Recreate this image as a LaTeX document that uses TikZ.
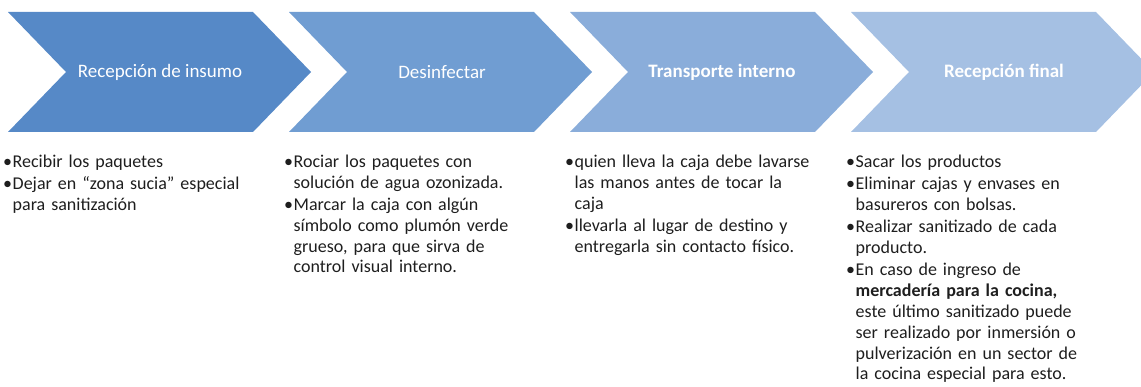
\documentclass[tikz,border=0pt]{standalone}
\usepackage{fontspec}
\setmainfont{Carlito}
\usepackage{xcolor}
\definecolor{stepone}{RGB}{86,137,199}
\definecolor{steptwo}{RGB}{112,157,210}
\definecolor{stepthree}{RGB}{138,173,218}
\definecolor{stepfour}{RGB}{165,192,227}
\definecolor{bodygray}{RGB}{30,30,30}
\newcommand{\bitem}{\par\noindent\hangindent=9.5pt\hangafter=1\makebox[9.5pt][l]{\textbullet}}
\tikzset{
  steptitle/.style={white, font=\fontsize{19}{22}\selectfont},
  stepbody/.style={anchor=north west, inner sep=0pt, text width=270pt, align=left,
    text=bodygray, font=\fontsize{18}{20.8}\selectfont,
    execute at begin node={\setlength{\parskip}{1.5pt}}}
}

\begin{document}
\begin{tikzpicture}[x=1pt,y=-1pt]
\clip (0,0) rectangle (1141,387);

% Chevrons
\foreach \i/\col in {0/stepone,1/steptwo,2/stepthree,3/stepfour}{
  \fill[\col] ({8+281*\i},12) -- ({253+281*\i},12) -- ({311+281*\i},72)
    -- ({253+281*\i},132) -- ({8+281*\i},132) -- ({66+281*\i},72) -- cycle;
}

% Titles
\node[steptitle] (h1) at (160,72) {Recepción de insumo};
\node[steptitle] (h2) at (442,72) {Desinfectar};
\node[steptitle, font=\fontsize{19}{22}\selectfont\bfseries] (h3) at (722,72) {Transporte interno};
\node[steptitle, font=\fontsize{19}{22}\selectfont\bfseries] (h4) at (1004,72) {Recepción final};

% Steps
\node[stepbody] (b1) at (3,145) {%
  \bitem Recibir los paquetes
  \bitem Dejar en “zona sucia” especial\newline para sanitización\par};
\node[stepbody] (b2) at (284,145) {%
  \bitem Rociar los paquetes con\newline solución de agua ozonizada.
  \bitem Marcar la caja con algún\newline símbolo como plumón verde\newline grueso, para que sirva de\newline control visual interno.\par};
\node[stepbody] (b3) at (565,145) {%
  \bitem quien lleva la caja debe lavarse\newline las manos antes de tocar la\newline caja
  \bitem llevarla al lugar de destino y\newline entregarla sin contacto físico.\par};
\node[stepbody] (b4) at (846,145) {%
  \bitem Sacar los productos
  \bitem Eliminar cajas y envases en\newline basureros con bolsas.
  \bitem Realizar sanitizado de cada\newline producto.
  \bitem En caso de ingreso de\newline \textbf{mercadería para la cocina,}\newline este último sanitizado puede\newline ser realizado por inmersión o\newline pulverización en un sector de\newline la cocina especial para esto.\par};
\end{tikzpicture}
\end{document}
